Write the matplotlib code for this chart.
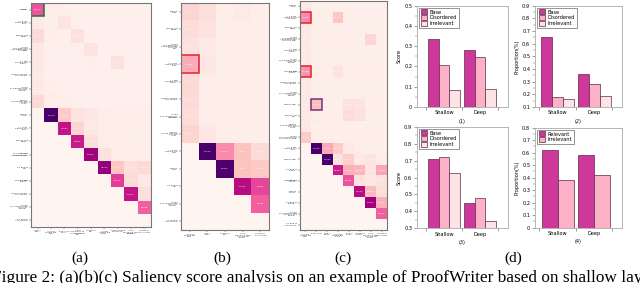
import numpy as np
import matplotlib
matplotlib.use("Agg")
import matplotlib.pyplot as plt
import matplotlib.patches as patches
from matplotlib.ticker import MultipleLocator

# ---------------- heatmap data ----------------
# (a) 17 rows x 9 steps
a_rows = ["Bob is\nblue.", "All blue\npeople are\nkind.", "Bob is not\nquiet.",
          "If you\nare kind and\nnot quiet then\nyou are\nbig.", "All big\npeople are\ngreen.",
          "Green people\nare round.", "If you\nare green then\nyou are\nyoung.",
          "Round,\nyoung people\nare not\nfuzzy.", "Bob is\nblue.", "All blue\npeople are\nkind.",
          "Bob is not\nquiet.", "If you\nare kind and\nnot quiet then\nyou are big.",
          "So Bob is\nbig.", "All big\npeople are\ngreen.", "Green people\nare round.",
          "If you\nare round then\nyou are\nyoung.", "So Bob is\nnot young."]
a_cols = ["Bob is\nblue.", "All blue\npeople are\nkind.", "Bob is not\nquiet.",
          "If you\nare kind and\nnot quiet then\nyou are\nbig.", "So Bob is\nbig.",
          "All big\npeople are\ngreen.", "Green people\nare round.",
          "If you\nare round then\nyou are\nyoung.", "So Bob is\nnot young."]
a_vals = [
    [0.55, 0.06, 0.05, 0.04, 0.04, 0.04, 0.04, 0.04, 0.04],
    [0.08, 0.05, 0.10, 0.04, 0.04, 0.04, 0.04, 0.04, 0.04],
    [0.15, 0.05, 0.04, 0.12, 0.04, 0.04, 0.04, 0.04, 0.04],
    [0.08, 0.04, 0.04, 0.04, 0.10, 0.04, 0.04, 0.04, 0.04],
    [0.08, 0.04, 0.04, 0.04, 0.05, 0.04, 0.12, 0.04, 0.04],
    [0.07, 0.04, 0.04, 0.04, 0.04, 0.04, 0.04, 0.04, 0.04],
    [0.08, 0.05, 0.04, 0.04, 0.04, 0.04, 0.04, 0.04, 0.04],
    [0.16, 0.06, 0.05, 0.04, 0.04, 0.04, 0.04, 0.04, 0.04],
    [0.02, 1.00, 0.22, 0.11, 0.09, 0.06, 0.05, 0.05, 0.05],
    [0.01, 0.02, 0.70, 0.18, 0.08, 0.06, 0.05, 0.05, 0.05],
    [0.01, 0.01, 0.02, 0.68, 0.13, 0.06, 0.05, 0.05, 0.05],
    [0.01, 0.01, 0.01, 0.02, 0.78, 0.12, 0.06, 0.05, 0.05],
    [0.01, 0.01, 0.01, 0.01, 0.02, 0.82, 0.24, 0.13, 0.15],
    [0.01, 0.01, 0.01, 0.01, 0.01, 0.02, 0.60, 0.15, 0.08],
    [0.01, 0.01, 0.01, 0.01, 0.01, 0.01, 0.02, 0.70, 0.13],
    [0.01, 0.01, 0.01, 0.01, 0.01, 0.01, 0.01, 0.02, 0.52],
    [0.01, 0.01, 0.01, 0.01, 0.01, 0.01, 0.01, 0.01, 0.02],
]

# (b) 13 rows x 5 steps
b_rows = ["Bob is\nblue.", "Bob is not\nquiet.", "If you\nare kind and\nnot quiet then\nyou are\nbig.",
          "All blue\npeople are\nkind.", "All big\npeople are\ngreen.", "Green people\nare round.",
          "If you\nare round then\nyou are\nyoung.", "Round,\nyoung people\nare not\nfuzzy.",
          "All blue\npeople are\nkind.", "Bob is\nkind.", "So Bob is\nbig.",
          "If you\nare round then\nyou are\nyoung.", "So Bob is\nnot young."]
b_cols = ["All blue\npeople are\nkind.", "Bob is\nkind.", "So Bob is\nbig.",
          "If you\nare round then\nyou are not\nyoung.", "So Bob is\nnot young."]
b_vals = [
    [0.18, 0.13, 0.05, 0.07, 0.05],
    [0.14, 0.11, 0.05, 0.05, 0.05],
    [0.12, 0.07, 0.05, 0.05, 0.05],
    [0.33, 0.09, 0.05, 0.05, 0.05],
    [0.16, 0.06, 0.05, 0.05, 0.05],
    [0.15, 0.06, 0.05, 0.05, 0.05],
    [0.14, 0.06, 0.05, 0.05, 0.05],
    [0.18, 0.09, 0.05, 0.05, 0.05],
    [0.02, 1.00, 0.42, 0.26, 0.15],
    [0.01, 0.02, 0.98, 0.25, 0.23],
    [0.01, 0.01, 0.02, 0.72, 0.58],
    [0.01, 0.01, 0.01, 0.02, 0.52],
    [0.01, 0.01, 0.01, 0.01, 0.02],
]

# (c) 21 rows x 8 steps
c_rows = ["Bob is\nblue.", "All blue\npeople are\nnot kind.", "Bob is not\nquiet.",
          "If you\nare kind and\nnot quiet then\nyou are big.", "All big\npeople are\ngreen.",
          "If you\nare green then\nyou are\nyoung.", "All big\npeople are\ngreen.",
          "Green people\nare round.", "If you\nare round then\nyou are\nyoung.",
          "Bob is big.", "Bob is not\nbig.", "Round,\nyoung people\nare not\nfuzzy.",
          "If you\nare round then\nyou are young.", "All blue\npeople are\nkind.",
          "Bob is big.", "So Bob is\ngreen.", "All green\npeople are\nround.",
          "Bob is\nround.", "So Bob is\nyoung.", "If you\nare round then\nyou are not\nyoung.",
          "So Bob is\nnot young."]
c_cols = ["All blue\npeople are\nkind.", "Bob is big.", "Bob is\ngreen.",
          "All green\npeople are\nround.", "Bob is\nround.", "So Bob is\nyoung.",
          "If you\nare round then\nyou are not\nyoung.", "So Bob is\nnot young."]
c_vals = [
    [0.08, 0.05, 0.05, 0.05, 0.05, 0.05, 0.05, 0.05],
    [0.42, 0.06, 0.05, 0.24, 0.05, 0.05, 0.05, 0.05],
    [0.08, 0.05, 0.05, 0.05, 0.05, 0.05, 0.05, 0.05],
    [0.08, 0.05, 0.05, 0.05, 0.05, 0.05, 0.17, 0.05],
    [0.08, 0.05, 0.05, 0.05, 0.05, 0.05, 0.05, 0.05],
    [0.08, 0.05, 0.05, 0.05, 0.05, 0.05, 0.05, 0.05],
    [0.40, 0.06, 0.05, 0.11, 0.05, 0.05, 0.05, 0.05],
    [0.08, 0.05, 0.05, 0.05, 0.05, 0.05, 0.05, 0.05],
    [0.08, 0.05, 0.05, 0.05, 0.05, 0.05, 0.05, 0.05],
    [0.08, 0.27, 0.05, 0.05, 0.12, 0.10, 0.05, 0.05],
    [0.08, 0.06, 0.05, 0.05, 0.14, 0.12, 0.05, 0.05],
    [0.09, 0.05, 0.05, 0.05, 0.05, 0.05, 0.05, 0.05],
    [0.22, 0.06, 0.05, 0.05, 0.05, 0.05, 0.05, 0.05],
    [0.02, 1.00, 0.34, 0.22, 0.08, 0.06, 0.05, 0.05],
    [0.01, 0.02, 1.00, 0.12, 0.20, 0.08, 0.10, 0.06],
    [0.01, 0.01, 0.02, 0.68, 0.32, 0.30, 0.10, 0.35],
    [0.01, 0.01, 0.01, 0.02, 0.55, 0.12, 0.09, 0.12],
    [0.01, 0.01, 0.01, 0.01, 0.02, 0.72, 0.28, 0.14],
    [0.01, 0.01, 0.01, 0.01, 0.01, 0.02, 0.78, 0.32],
    [0.01, 0.01, 0.01, 0.01, 0.01, 0.01, 0.02, 0.52],
    [0.01, 0.01, 0.01, 0.01, 0.01, 0.01, 0.01, 0.02],
]

# highlighted cells: (row, col, colour)
a_boxes = [(0, 0, "#2f6b3a")]
b_boxes = [(3, 0, "#e8202a")]
c_boxes = [(1, 0, "#e8202a"), (6, 0, "#e8202a"), (9, 1, "#7a2f78")]

# ---------------- bar data ----------------
groups = ["Shallow", "Deep"]
score_base = [0.335, 0.28]
score_disordered = [0.207, 0.248]
score_irrelevant = [0.083, 0.087]
prop_base = [0.655, 0.36]
prop_disordered = [0.18, 0.28]
prop_irrelevant = [0.16, 0.19]
score2_base = [0.71, 0.45]
score2_disordered = [0.72, 0.48]
score2_irrelevant = [0.625, 0.345]
rel_relevant = [0.62, 0.58]
rel_irrelevant = [0.38, 0.42]

C_BASE = "#cf389b"
C_DIS = "#fcb1c7"
C_IRR = "#fde4e4"
EDGE = "#5b2a47"

fig = plt.figure(figsize=(6.4, 2.83), dpi=100)
W, H = 640.0, 283.0


def px_axes(x0, y0, x1, y1):
    return fig.add_axes([x0 / W, 1 - y1 / H, (x1 - x0) / W, (y1 - y0) / H])


def heatmap(ax, vals, rows, cols, boxes):
    m = np.array(vals)
    ax.imshow(m, cmap="RdPu", vmin=0, vmax=1, aspect="auto", interpolation="nearest")
    for i in range(m.shape[0]):
        for j in range(m.shape[1]):
            ax.text(j, i, f"{m[i, j]:.4f}", ha="center", va="center",
                    color="white", fontsize=1.5)
    for r, c, col in boxes:
        ax.add_patch(patches.Rectangle((c - 0.5, r - 0.5), 1, 1, fill=False,
                                       edgecolor=col, lw=1.1))
    ax.set_yticks(range(len(rows)))
    ax.set_yticklabels(rows, fontsize=1.7, linespacing=0.9)
    ax.set_xticks(range(len(cols)))
    ax.set_xticklabels(cols, fontsize=1.5, linespacing=0.9, va="top")
    ax.tick_params(length=1.5, width=0.3, pad=1, colors="#333333")
    for s in ax.spines.values():
        s.set_color("#777777")
        s.set_linewidth(0.8)


heatmap(px_axes(31, 3, 151, 227), a_vals, a_rows, a_cols, a_boxes)
heatmap(px_axes(181, 3, 269, 230), b_vals, b_rows, b_cols, b_boxes)
heatmap(px_axes(300, 1, 387, 230), c_vals, c_rows, c_cols, c_boxes)


def bars(ax, series, labels, colors, width, ylim, ylabel, sub, xlim):
    x = np.arange(len(groups))
    n = len(series)
    for k, (vals, lab, col) in enumerate(zip(series, labels, colors)):
        ax.bar(x + (k - (n - 1) / 2) * width, vals, width, color=col,
               edgecolor=EDGE, lw=0.5, label=lab)
    ax.set_ylim(*ylim)
    ax.set_xlim(*xlim)
    ax.set_xticks(x)
    ax.set_xticklabels(groups, fontsize=3.6)
    ax.set_xticks([-0.5, 0.5, 1.5], minor=True)
    ax.tick_params(axis="x", which="major", length=0, pad=2.5)
    ax.tick_params(axis="x", which="minor", length=2, width=0.4, color="#555555")
    ax.yaxis.set_major_locator(MultipleLocator(0.1))
    ax.yaxis.set_minor_locator(MultipleLocator(0.05))
    ax.tick_params(axis="y", which="major", length=2, width=0.4, labelsize=3.6,
                   pad=1.5, color="#555555")
    ax.tick_params(axis="y", which="minor", length=1.2, width=0.3, color="#555555")
    ax.yaxis.set_major_formatter(plt.FuncFormatter(
        lambda v, p: "0" if abs(v) < 1e-9 else f"{v:.1f}"))
    ax.set_ylabel(ylabel, fontsize=3.6, labelpad=2)
    ax.set_xlabel(sub, fontsize=3.6, labelpad=2.5)
    for s in ax.spines.values():
        s.set_color("#aaaaaa")
        s.set_linewidth(0.6)
    leg = ax.legend(loc="upper left", fontsize=3.6, frameon=True, fancybox=False,
                    handlelength=1.3, handleheight=1.1, borderpad=0.35,
                    labelspacing=0.15, handletextpad=0.5, borderaxespad=0.4)
    leg.get_frame().set_edgecolor("#444444")
    leg.get_frame().set_linewidth(0.5)


three = ["Base", "Disordered", "Irrelevant"]
cols3 = [C_BASE, C_DIS, C_IRR]
bars(px_axes(417, 5.7, 508, 107),
     [score_base, score_disordered, score_irrelevant], three, cols3, 0.3,
     (0, 0.5), "Score", "(1)", (-0.75, 1.78))
bars(px_axes(535, 5.7, 622, 107),
     [prop_base, prop_disordered, prop_irrelevant], three, cols3, 0.3,
     (0.1, 0.9), "Proportion(%)", "(2)", (-0.62, 1.76))
bars(px_axes(417, 126.7, 508, 228.3),
     [score2_base, score2_disordered, score2_irrelevant], three, cols3, 0.3,
     (0.3, 0.9), "Score", "(3)", (-0.75, 1.78))
bars(px_axes(535, 127.7, 622, 227.5),
     [rel_relevant, rel_irrelevant], ["Relevant", "Irrelevant"], [C_BASE, C_DIS], 0.44,
     (0, 0.8), "Proportion(%)", "(4)", (-0.62, 1.76))

serif = ["Liberation Serif", "DejaVu Serif"]
for lab, xp in [("(a)", 80), ("(b)", 222), ("(c)", 343), ("(d)", 513)]:
    fig.text(xp / W, 1 - 258 / H, lab, ha="center", va="center", fontsize=11,
             family=serif)

# caption, cut by the bottom edge as in the source
fig.text(-8 / W, 1 - 281.5 / H,
         "Figure 2: (a)(b)(c) Saliency score analysis on an example of ProofWriter based on shallow layers",
         ha="left", va="baseline", fontsize=12.4, family=serif)

fig.savefig("out.png", dpi=100)
